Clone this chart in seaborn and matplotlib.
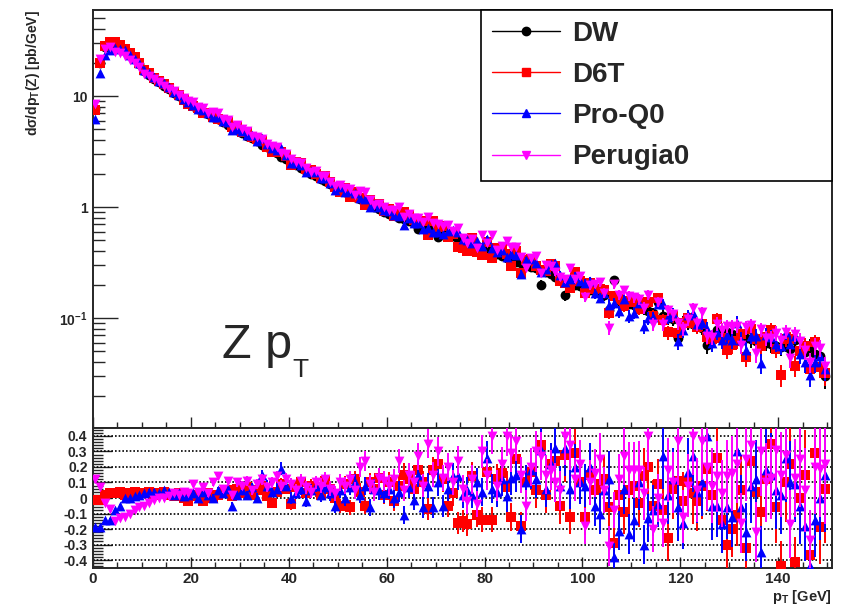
import numpy as np
import pandas as pd
import matplotlib
matplotlib.use("Agg")
import matplotlib.pyplot as plt
import seaborn as sns
from matplotlib.ticker import (MultipleLocator, LogLocator, FixedLocator,
                               FuncFormatter, NullFormatter)
from matplotlib.lines import Line2D

# ---------------------------------------------------------------- data
# Z transverse momentum spectrum, 1 GeV bins from 0 to 150 GeV
bin_width = 1.0
pt_centers = np.arange(150) * bin_width + 0.5 * bin_width

series_names = ["DW", "D6T", "Pro-Q0", "Perugia0"]
series_colors = ["#000000", "#ff0000", "#0000ff", "#ff00ff"]
series_markers = ["o", "s", "^", "v"]

# DW tune: d(sigma)/dpT [pb/GeV]
dw_xsec = [
    7.6, 20.0, 27.5, 30.0, 29.5, 28.0, 26.0, 23.6, 21.4, 19.3,
    16.8, 15.5, 14.3, 13.3, 12.4, 11.5, 10.7, 10.0, 9.3, 8.7,
    8.1, 7.65, 7.25, 6.85, 6.5, 6.15, 5.8, 5.5, 5.2, 4.95,
    4.65, 4.4, 4.15, 3.9, 3.65, 3.45, 3.25, 3.05, 2.85, 2.7,
    2.5, 2.4, 2.25, 2.12, 2.0, 1.9, 1.78, 1.7, 1.6, 1.5,
    1.44, 1.37, 1.3, 1.22, 1.17, 1.1, 1.06, 1.0, 0.95, 0.91,
    0.87, 0.84, 0.80, 0.78, 0.75, 0.72, 0.63, 0.68, 0.60, 0.63,
    0.54, 0.60, 0.57, 0.55, 0.52, 0.50, 0.48, 0.46, 0.445, 0.43,
    0.41, 0.40, 0.38, 0.365, 0.35, 0.335, 0.32, 0.31, 0.30, 0.29,
    0.28, 0.20, 0.26, 0.25, 0.235, 0.225, 0.16, 0.21, 0.20, 0.195,
    0.19, 0.18, 0.175, 0.168, 0.16, 0.118, 0.22, 0.145, 0.14, 0.135,
    0.13, 0.125, 0.12, 0.115, 0.11, 0.14, 0.105, 0.10, 0.098, 0.066,
    0.092, 0.09, 0.088, 0.085, 0.082, 0.057, 0.063, 0.078, 0.076, 0.074,
    0.072, 0.07, 0.068, 0.066, 0.064, 0.062, 0.061, 0.06, 0.058, 0.056,
    0.055, 0.059, 0.053, 0.063, 0.05, 0.049, 0.055, 0.047, 0.045, 0.03,
]

# relative difference (tune - DW) / DW
d6t_rel = [
    -0.01, -0.01, 0.02, 0.03, 0.03, 0.04, 0.02, 0.03, 0.04, 0.03,
    0.03, 0.04, 0.02, 0.03, 0.04, 0.02, 0.01, 0.03, 0.00, -0.02,
    0.01, 0.02, -0.02, 0.03, 0.00, 0.02, 0.04, 0.05, 0.01, 0.06,
    0.03, 0.07, 0.02, 0.05, 0.08, 0.01, -0.03, 0.04, 0.09, 0.06,
    -0.04, 0.07, 0.10, 0.03, 0.08, 0.05, 0.02, 0.11, 0.06, 0.00,
    -0.05, 0.09, -0.06, 0.12, 0.04, -0.05, 0.10, 0.06, 0.13, 0.02,
    0.10, -0.02, 0.08, 0.15, 0.12, 0.06, 0.18, 0.10, -0.07, 0.18,
    0.22, 0.12, -0.05, 0.03, -0.16, -0.15, -0.17, 0.14, -0.11, -0.14,
    0.17, -0.14, 0.12, 0.16, 0.07, -0.12, 0.25, -0.18, 0.10, 0.17,
    0.05, 0.34, 0.02, 0.22, 0.24, -0.05, 0.28, -0.12, 0.29, 0.10,
    -0.12, 0.15, 0.05, 0.09, 0.12, -0.06, -0.29, 0.02, -0.09, 0.05,
    0.08, -0.03, 0.14, 0.20, -0.05, 0.09, -0.08, -0.26, 0.06, 0.11,
    -0.02, 0.10, 0.03, -0.02, 0.08, 0.19, 0.02, 0.26, -0.14, -0.30,
    -0.20, -0.11, 0.05, -0.32, 0.24, 0.04, -0.09, 0.12, 0.35, -0.06,
    -0.44, 0.10, 0.22, -0.41, 0.00, 0.15, -0.37, 0.29, -0.19, 0.06,
]

proq0_rel = [
    -0.19, -0.19, -0.14, -0.14, -0.08, -0.05, 0.00, 0.00, 0.01, 0.02,
    0.03, 0.04, 0.04, 0.03, 0.05, 0.04, 0.02, 0.03, 0.01, 0.02,
    0.03, 0.00, 0.04, 0.02, 0.00, 0.05, 0.03, 0.06, -0.05, 0.02,
    0.05, 0.02, 0.07, 0.00, 0.15, 0.08, 0.04, 0.06, 0.19, 0.08,
    0.00, 0.03, 0.06, -0.02, 0.05, 0.08, 0.02, 0.07, 0.03, -0.05,
    0.05, 0.00, 0.07, 0.10, 0.02, 0.08, -0.06, 0.06, 0.05, 0.03,
    0.06, 0.00, 0.04, -0.11, 0.07, -0.01, 0.15, -0.06, 0.08, -0.06,
    0.10, -0.05, 0.06, 0.14, 0.14, 0.02, 0.05, 0.02, 0.10, 0.04,
    0.26, 0.06, 0.04, 0.12, 0.01, 0.13, 0.15, -0.20, 0.10, 0.18,
    0.12, 0.31, 0.06, 0.22, 0.32, 0.08, 0.32, 0.06, 0.20, 0.10,
    0.08, 0.20, -0.05, -0.10, 0.05, 0.12, -0.38, -0.21, 0.06, -0.23,
    -0.14, 0.10, -0.30, -0.13, -0.08, -0.04, 0.27, 0.02, 0.12, -0.06,
    -0.16, 0.17, 0.27, 0.04, 0.10, 0.40, -0.05, -0.05, -0.17, -0.06,
    -0.12, 0.30, -0.06, -0.22, 0.08, 0.12, -0.35, 0.18, 0.15, 0.05,
    0.02, 0.26, 0.10, 0.09, -0.05, -0.18, -0.44, -0.14, 0.00, 0.15,
]

perugia0_rel = [
    0.12, 0.07, -0.03, -0.07, -0.15, -0.13, -0.12, -0.10, -0.08, -0.06,
    -0.05, -0.03, -0.01, 0.00, 0.00, 0.01, 0.03, 0.02, 0.04, 0.03,
    0.09, 0.04, 0.07, 0.03, 0.10, 0.14, 0.06, 0.11, 0.02, 0.10,
    0.08, 0.11, 0.05, 0.09, 0.12, 0.07, 0.10, 0.14, 0.08, 0.12,
    0.09, 0.05, 0.11, 0.07, 0.04, 0.10, 0.08, 0.12, 0.06, 0.03,
    0.10, 0.08, 0.12, 0.05, 0.20, 0.24, 0.09, 0.04, 0.13, 0.11,
    0.08, 0.12, 0.24, 0.05, 0.15, 0.10, 0.27, 0.08, 0.35, 0.15,
    0.30, 0.13, 0.20, 0.10, 0.24, 0.06, -0.02, 0.12, -0.04, 0.30,
    0.15, 0.40, 0.08, 0.22, 0.40, 0.29, 0.37, 0.15, -0.05, 0.20,
    0.30, 0.27, 0.15, 0.18, 0.10, 0.05, 0.40, 0.34, 0.12, 0.22,
    -0.18, 0.10, 0.16, 0.25, 0.05, -0.31, -0.08, 0.12, 0.27, 0.18,
    0.18, 0.18, 0.03, 0.40, -0.20, 0.00, -0.16, 0.18, 0.10, 0.37,
    -0.12, 0.08, 0.40, 0.05, 0.37, 0.20, 0.08, 0.14, 0.03, 0.14,
    0.16, 0.22, -0.16, 0.25, 0.34, -0.22, 0.30, 0.10, 0.13, 0.31,
    0.15, 0.28, -0.17, 0.13, 0.25, 0.05, -0.27, 0.20, 0.19, 0.22,
]

# generated events per pb/GeV in each bin (sets the statistical errors)
events_per_unit = 600.0

# ---------------------------------------------------------------- tables
dw = np.array(dw_xsec)
rel = {"D6T": np.array(d6t_rel), "Pro-Q0": np.array(proq0_rel),
       "Perugia0": np.array(perugia0_rel)}

xsec = {"DW": dw}
for name, r in rel.items():
    xsec[name] = dw * (1.0 + r)

main_rows, ratio_rows = [], []
for name in series_names:
    v = xsec[name]
    err = np.sqrt(v / events_per_unit)
    main_rows.append(pd.DataFrame({"pT": pt_centers, "xsec": v, "err": err,
                                   "tune": name}))
    if name != "DW":
        rerr = (v / dw) * np.sqrt(1.0 / (v * events_per_unit)
                                  + 1.0 / (dw * events_per_unit))
        ratio_rows.append(pd.DataFrame({"pT": pt_centers, "rel": rel[name],
                                        "err": rerr, "tune": name}))
main_df = pd.concat(main_rows, ignore_index=True)
ratio_df = pd.concat(ratio_rows, ignore_index=True)

# ---------------------------------------------------------------- style
sns.set_style("ticks")
plt.rcParams["font.family"] = ["Liberation Sans", "DejaVu Sans"]
plt.rcParams["mathtext.fontset"] = "custom"
plt.rcParams["mathtext.rm"] = "Liberation Sans"
plt.rcParams["mathtext.bf"] = "Liberation Sans:bold"
plt.rcParams["axes.linewidth"] = 1.4

W, H = 846, 606
fig = plt.figure(figsize=(W / 100, H / 100), dpi=100)
left, right = 93, 832
ax = fig.add_axes([left / W, 1 - 428 / H, (right - left) / W, 418 / H])
axr = fig.add_axes([left / W, 1 - 568 / H, (right - left) / W, 140 / H])

xmin, xmax = 0, 151
marker_area = 50

# ---------------------------------------------------------------- spectrum
for i, name in enumerate(series_names):
    sub = main_df[main_df["tune"] == name]
    ax.errorbar(sub["pT"], sub["xsec"], yerr=sub["err"], fmt="none",
                ecolor=series_colors[i], elinewidth=1.4, capsize=0,
                zorder=2 + 2 * i)
    sns.scatterplot(data=sub, x="pT", y="xsec", color=series_colors[i],
                    marker=series_markers[i], s=marker_area, linewidth=0,
                    legend=False, ax=ax, zorder=3 + 2 * i)

ax.set_yscale("log")
ax.set_xlim(xmin, xmax)
ax.set_ylim(0.0102, 59.6)
ax.set_xlabel("")
ax.set_ylabel("")
ax.xaxis.set_major_locator(MultipleLocator(20))
ax.xaxis.set_minor_locator(MultipleLocator(5))
ax.xaxis.set_major_formatter(NullFormatter())
ax.yaxis.set_major_locator(LogLocator(base=10, numticks=10))
ax.yaxis.set_minor_locator(LogLocator(base=10, subs=np.arange(2, 10),
                                      numticks=20))
ax.yaxis.set_minor_formatter(NullFormatter())

def log_label(v, pos):
    if abs(v - 10) < 1e-6:
        return "10"
    if abs(v - 1) < 1e-6:
        return "1"
    if abs(v - 0.1) < 1e-9:
        return r"10$^{\mathbf{-1}}$"
    return ""

ax.yaxis.set_major_formatter(FuncFormatter(log_label))
ax.tick_params(axis="y", which="major", direction="in", length=18, width=1.0,
               labelsize=10, pad=4, left=True, right=False)
ax.tick_params(axis="y", which="minor", direction="in", length=8.5, width=1.0,
               left=True, right=False)
ax.tick_params(axis="x", which="major", direction="in", length=8, width=1.0,
               bottom=True, top=False)
ax.tick_params(axis="x", which="minor", direction="in", length=4, width=1.0,
               bottom=True, top=False)
for lab in ax.get_yticklabels():
    lab.set_fontweight("bold")

handles = [Line2D([], [], color=c, marker=m, markersize=6, lw=1.0)
           for c, m in zip(series_colors, series_markers)]
leg = ax.legend(handles, series_names, loc="upper left",
                bbox_to_anchor=((481 - left) / (right - left), 0.0,
                                (right - 481) / (right - left), 1.0),
                mode="expand", borderaxespad=0, frameon=True, fancybox=False,
                edgecolor="black", framealpha=1.0,
                prop={"weight": "bold", "size": 20},
                handlelength=2.45, handletextpad=0.45, labelspacing=0.55,
                borderpad=0.38)
leg.get_frame().set_linewidth(1.2)
leg.set_zorder(20)

# ---------------------------------------------------------------- ratio
for i, name in enumerate(series_names[1:], start=1):
    sub = ratio_df[ratio_df["tune"] == name]
    axr.errorbar(sub["pT"], sub["rel"], yerr=sub["err"], fmt="none",
                 ecolor=series_colors[i], elinewidth=1.4, capsize=0,
                 zorder=2 + 2 * i)
    sns.scatterplot(data=sub, x="pT", y="rel", color=series_colors[i],
                    marker=series_markers[i], s=marker_area, linewidth=0,
                    legend=False, ax=axr, zorder=3 + 2 * i)

ratio_levels = np.round(np.arange(-4, 5) / 10.0, 1)
for lv in ratio_levels:
    axr.axhline(lv, color="black", lw=1.2, ls=(0, (1, 1.2)), zorder=1)

axr.set_xlim(xmin, xmax)
axr.set_ylim(-0.4516, 0.4516)
axr.set_xlabel("")
axr.set_ylabel("")
axr.xaxis.set_major_locator(MultipleLocator(20))
axr.xaxis.set_minor_locator(MultipleLocator(5))
axr.yaxis.set_major_locator(FixedLocator(ratio_levels))
axr.yaxis.set_minor_locator(MultipleLocator(0.02))
axr.yaxis.set_major_formatter(
    FuncFormatter(lambda v, p: "0" if abs(v) < 1e-9 else f"{v:.1f}"))
axr.tick_params(axis="y", which="major", direction="in", length=14, width=1.0,
                labelsize=10, pad=4, left=True, right=False)
axr.tick_params(axis="y", which="minor", direction="in", length=7, width=1.0,
                left=True, right=False)
axr.tick_params(axis="x", which="major", direction="in", length=8, width=1.0,
                labelsize=11, pad=3, bottom=True, top=False)
axr.tick_params(axis="x", which="minor", direction="in", length=4, width=1.0,
                bottom=True, top=False)
for lab in axr.get_yticklabels() + axr.get_xticklabels():
    lab.set_fontweight("bold")

# ---------------------------------------------------------------- titles
fig.text(33 / W, 1 - 10 / H, "dσ/dp$_{\\mathregular{T}}$(Z) [pb/GeV]",
         rotation=90, ha="center", va="top", fontsize=10, fontweight="bold")
fig.text(222 / W, 1 - 358 / H, "Z p", fontsize=35, ha="left", va="baseline")
fig.text(292 / W, 1 - 377 / H, "T", fontsize=19, ha="left", va="baseline")
fig.text(832 / W, 1 - 588 / H, "p$_{\\mathregular{T}}$ [GeV]", ha="right",
         va="top", fontsize=10.5, fontweight="bold")

fig.savefig("out.png", dpi=100)
